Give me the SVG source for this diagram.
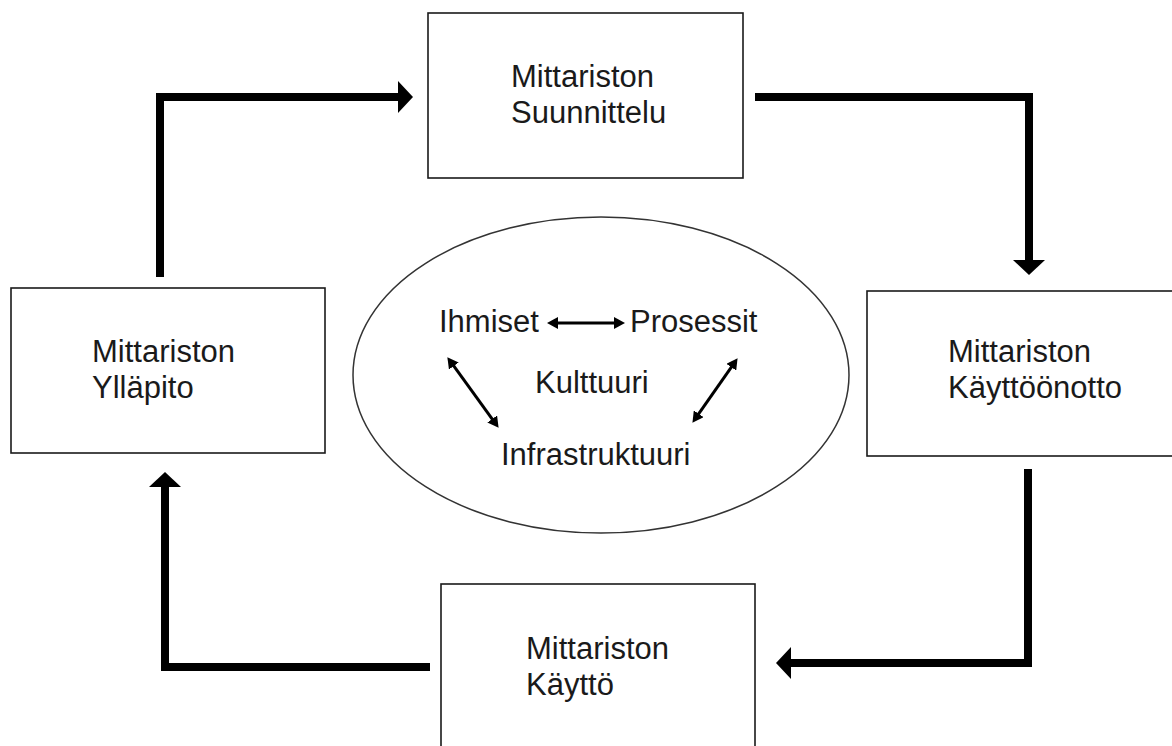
<svg xmlns="http://www.w3.org/2000/svg" width="1172" height="746" viewBox="0 0 1172 746">
  <style>
    .box { fill: #ffffff; stroke: #1a1a1a; stroke-width: 1.6; }
    .label { font-family: "Liberation Sans", Arial, sans-serif; font-size: 31px; fill: #1a1a1a; }
    .flow { fill: none; stroke: #000000; stroke-width: 8; stroke-linejoin: miter; stroke-linecap: butt; }
    .link { fill: none; stroke: #000000; stroke-width: 3; }
    .ring { fill: #ffffff; stroke: #333333; stroke-width: 1.5; }
  </style>
  <defs>
    <!-- heavy arrowhead for the cycle; the path ends at the base of the head -->
    <marker id="bigHead" markerUnits="userSpaceOnUse" viewBox="0 0 15 32" refX="0" refY="16" markerWidth="15" markerHeight="32" orient="auto">
      <path d="M0,0 L15,16 L0,32 Z" fill="#000000"/>
    </marker>
    <!-- small arrowhead for the inner relations -->
    <marker id="smallHead" markerUnits="userSpaceOnUse" viewBox="0 0 11 12" refX="6" refY="6" markerWidth="11" markerHeight="12" orient="auto-start-reverse">
      <path d="M0,0 L11,6 L0,12 Z" fill="#000000"/>
    </marker>
  </defs>

  <rect width="1172" height="746" fill="#ffffff"/>

  <!-- centre ellipse -->
  <g id="core">
    <ellipse class="ring" cx="601" cy="375" rx="248" ry="158"/>
    <text class="label" x="439" y="332">Ihmiset</text>
    <text class="label" x="630" y="332">Prosessit</text>
    <text class="label" x="535" y="393">Kulttuuri</text>
    <text class="label" x="501" y="465">Infrastruktuuri</text>
  </g>

  <g id="suunnittelu">
    <rect class="box" x="428" y="13" width="315" height="165"/>
    <text class="label" x="511" y="87">Mittariston</text>
    <text class="label" x="511" y="123">Suunnittelu</text>
  </g>

  <g id="kayttoonotto">
    <rect class="box" x="867" y="291" width="320" height="165"/>
    <text class="label" x="948" y="362">Mittariston</text>
    <text class="label" x="948" y="398">Käyttöönotto</text>
  </g>

  <g id="kaytto">
    <rect class="box" x="441" y="584" width="314" height="170"/>
    <text class="label" x="526" y="659">Mittariston</text>
    <text class="label" x="526" y="695">Käyttö</text>
  </g>

  <g id="yllapito">
    <rect class="box" x="11" y="288" width="314" height="165"/>
    <text class="label" x="92" y="362">Mittariston</text>
    <text class="label" x="92" y="398">Ylläpito</text>
  </g>

  <g id="connectors">
    <!-- outer cycle -->
    <path class="flow" d="M160,277 V97 H398" marker-end="url(#bigHead)"/>
    <path class="flow" d="M755,97 H1029 V260" marker-end="url(#bigHead)"/>
    <path class="flow" d="M1028,469 V663 H791" marker-end="url(#bigHead)"/>
    <path class="flow" d="M430,667 H165 V487" marker-end="url(#bigHead)"/>
    <!-- inner relations -->
    <line class="link" x1="552" y1="323" x2="620" y2="323" marker-start="url(#smallHead)" marker-end="url(#smallHead)"/>
    <line class="link" x1="450.3" y1="361.2" x2="495.7" y2="423.8" marker-start="url(#smallHead)" marker-end="url(#smallHead)"/>
    <line class="link" x1="734.7" y1="362.3" x2="695.3" y2="418.7" marker-start="url(#smallHead)" marker-end="url(#smallHead)"/>
  </g>
</svg>
